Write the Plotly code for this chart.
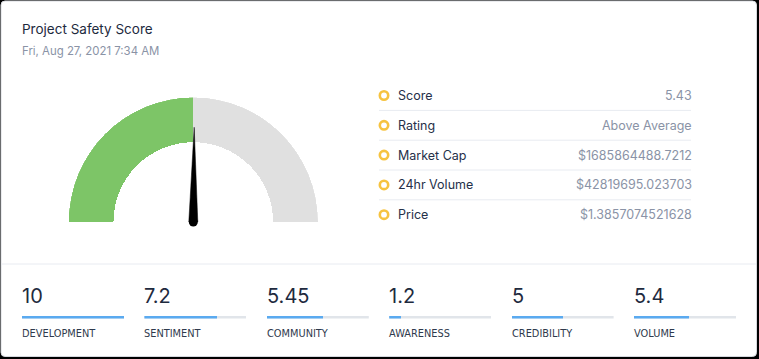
import plotly.graph_objects as go

# ---------------- data ----------------
title_text = "Project Safety Score"
date_text = "Fri, Aug 27, 2021 7:34 AM"

gauge_min = 0
gauge_max = 10
gauge_value = 5.0
needle_value = 5.03

table_labels = ["Score", "Rating", "Market Cap", "24hr Volume", "Price"]
table_values = ["5.43", "Above Average", "$1685864488.7212",
                "$42819695.023703", "$1.3857074521628"]

metric_names = ["DEVELOPMENT", "SENTIMENT", "COMMUNITY",
                "AWARENESS", "CREDIBILITY", "VOLUME"]
metric_values = [10, 7.2, 5.45, 1.2, 5, 5.4]
metric_max = 10

# ---------------- layout helpers ----------------
W, H = 759, 359
PAD = 2  # annotation inner padding (borderpad + borderwidth)


def X(p):
    return p / W


def Y(p):
    return 1 - p / H


FONT = "Inter, 'Open Sans', sans-serif"
DARK = "#1e2a3e"
GRAY = "#8a93a6"
GREEN = "#7dc567"
TRACK = "#e0e0e0"
BLUE = "#5aaaf0"
BAR_TRACK = "#e1e5ea"
LINE = "#e8ebf1"

fig = go.Figure()

# ---------------- gauge ----------------
span = gauge_max - gauge_min
deg = 180.0 / span
inner = 0.64
fill_len = gauge_value - gauge_min
fig.add_trace(go.Barpolar(
    r=[1 - inner, 1 - inner],
    base=[inner, inner],
    theta=[fill_len / 2 * deg, (fill_len + span) / 2 * deg],
    width=[fill_len * deg, (span - fill_len) * deg],
    marker=dict(color=[GREEN, TRACK], line=dict(width=0)),
    subplot="polar", hoverinfo="skip", showlegend=False,
))

th = (needle_value - gauge_min) * deg
fig.add_trace(go.Scatterpolar(
    r=[0.76, 0.036, 0.036, 0.76],
    theta=[th, th - 90, th + 90, th],
    mode="lines", fill="toself", fillcolor="#000000",
    line=dict(color="#000000", width=0.5),
    subplot="polar", hoverinfo="skip", showlegend=False,
))
fig.add_trace(go.Scatterpolar(
    r=[0], theta=[th], mode="markers",
    marker=dict(size=9, color="#000000"),
    cliponaxis=False,
    subplot="polar", hoverinfo="skip", showlegend=False,
))

# ---------------- metric progress bars ----------------
col0, col_step, bar_w = 22, 122.4, 102
for i, v in enumerate(metric_values):
    xa = "x" if i == 0 else f"x{i + 1}"
    fig.add_trace(go.Bar(
        x=[metric_max], y=[0], orientation="h", width=1,
        marker=dict(color=BAR_TRACK, line=dict(width=0)),
        xaxis=xa, yaxis="y", hoverinfo="skip", showlegend=False,
    ))
    fig.add_trace(go.Bar(
        x=[v], y=[0], orientation="h", width=1,
        marker=dict(color=BLUE, line=dict(width=0)),
        xaxis=xa, yaxis="y", hoverinfo="skip", showlegend=False,
    ))

layout_axes = {}
for i in range(len(metric_values)):
    name = "xaxis" if i == 0 else f"xaxis{i + 1}"
    x0 = col0 + col_step * i
    layout_axes[name] = dict(domain=[X(x0), X(x0 + bar_w)], range=[0, metric_max],
                             visible=False, fixedrange=True, anchor="y")
layout_axes["yaxis"] = dict(domain=[Y(318.5), Y(316)], range=[-0.5, 0.5],
                            visible=False, fixedrange=True)

# ---------------- shapes ----------------
shapes = []
# white card with rounded corners
x0, y0, x1, y1, rr = 1, 1, 756.5, 356.5, 4
path = (f"M {X(x0 + rr)},{Y(y0)} L {X(x1 - rr)},{Y(y0)} "
        f"Q {X(x1)},{Y(y0)} {X(x1)},{Y(y0 + rr)} L {X(x1)},{Y(y1 - rr)} "
        f"Q {X(x1)},{Y(y1)} {X(x1 - rr)},{Y(y1)} L {X(x0 + rr)},{Y(y1)} "
        f"Q {X(x0)},{Y(y1)} {X(x0)},{Y(y1 - rr)} L {X(x0)},{Y(y0 + rr)} "
        f"Q {X(x0)},{Y(y0)} {X(x0 + rr)},{Y(y0)} Z")
shapes.append(dict(type="path", path=path, xref="paper", yref="paper",
                   fillcolor="#ffffff", line=dict(color="#d5d8dd", width=1),
                   layer="below"))
# full-width separator
shapes.append(dict(type="line", xref="paper", yref="paper",
                   x0=X(1.5), x1=X(756), y0=Y(264), y1=Y(264),
                   line=dict(color=LINE, width=1), layer="below"))

row_y0, row_step = 95.5, 29.8
for i in range(len(table_labels) - 1):
    yy = row_y0 + row_step * i + row_step / 2
    shapes.append(dict(type="line", xref="paper", yref="paper",
                       x0=X(379), x1=X(691), y0=Y(yy), y1=Y(yy),
                       line=dict(color=LINE, width=1), layer="below"))
for i in range(len(table_labels)):
    yy = row_y0 + row_step * i
    r = 4.2
    shapes.append(dict(type="circle", xref="paper", yref="paper",
                       x0=X(384 - r), x1=X(384 + r), y0=Y(yy + r), y1=Y(yy - r),
                       fillcolor="#ffffff", line=dict(color="#f6c340", width=2.6)))

# ---------------- annotations ----------------
ann = []
ann.append(dict(text=title_text, x=X(22 - PAD), y=Y(29.5), xref="paper", yref="paper",
                xanchor="left", yanchor="middle", showarrow=False,
                font=dict(family=FONT, size=13.5, color=DARK)))
ann.append(dict(text=date_text, x=X(22 - PAD), y=Y(51), xref="paper", yref="paper",
                xanchor="left", yanchor="middle", showarrow=False,
                font=dict(family=FONT, size=11.4, color=GRAY)))
for i, (lab, val) in enumerate(zip(table_labels, table_values)):
    yy = row_y0 + row_step * i
    ann.append(dict(text=lab, x=X(398 - PAD), y=Y(yy), xref="paper", yref="paper",
                    xanchor="left", yanchor="middle", showarrow=False,
                    font=dict(family=FONT, size=12.5, color="#253049")))
    ann.append(dict(text=val, x=X(691.5 + PAD), y=Y(yy), xref="paper", yref="paper",
                    xanchor="right", yanchor="middle", showarrow=False,
                    font=dict(family=FONT, size=12.5, color=GRAY)))
for i, (nm, v) in enumerate(zip(metric_names, metric_values)):
    x0 = col0 + col_step * i
    ann.append(dict(text=f"{v:g}", x=X(x0 - 1 - PAD + 1), y=Y(296), xref="paper", yref="paper",
                    xanchor="left", yanchor="middle", showarrow=False,
                    font=dict(family=FONT, size=20, color=DARK)))
    ann.append(dict(text=nm, x=X(x0 - PAD), y=Y(333), xref="paper", yref="paper",
                    xanchor="left", yanchor="middle", showarrow=False,
                    font=dict(family="DejaVu Sans, sans-serif", size=9.8, color="#2f3a4d")))

fig.update_layout(
    width=W, height=H, autosize=False,
    margin=dict(l=0, r=0, t=0, b=0, pad=0),
    paper_bgcolor="#000000", plot_bgcolor="rgba(0,0,0,0)",
    barmode="overlay", bargap=0,
    showlegend=False,
    polar=dict(
        domain=dict(x=[X(68.3), X(318.3)], y=[Y(222), Y(97.3)]),
        sector=[0, 180], hole=0, bgcolor="rgba(0,0,0,0)",
        radialaxis=dict(range=[0, 1], visible=False),
        angularaxis=dict(visible=False, rotation=180, direction="clockwise",
                         thetaunit="degrees"),
    ),
    shapes=shapes, annotations=ann,
    **layout_axes,
)

fig.write_html(
    "out.html",
    config={"displayModeBar": False},
    post_script="document.body.style.margin='0';document.body.style.overflow='hidden';",
)
